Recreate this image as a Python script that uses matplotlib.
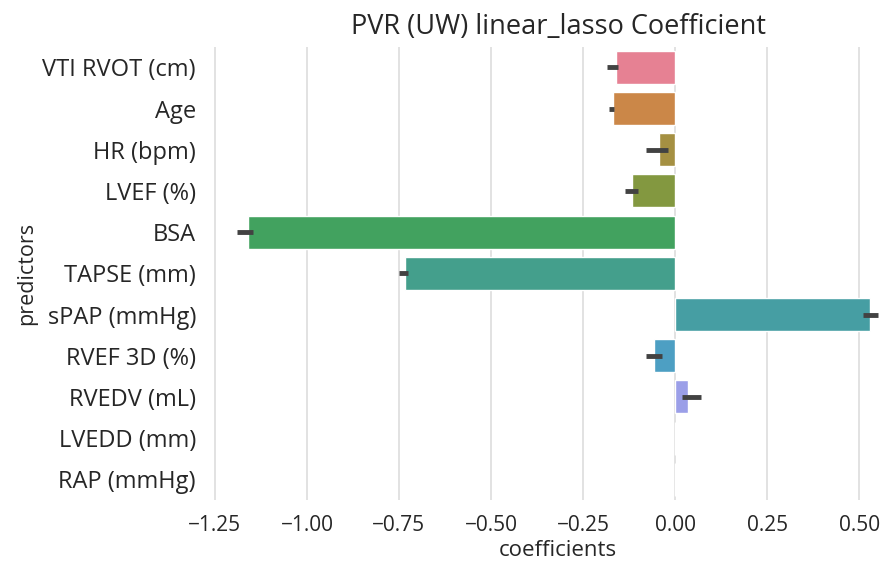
import matplotlib
matplotlib.use("Agg")
import matplotlib.pyplot as plt
import seaborn as sns
import numpy as np

predictors = ["VTI RVOT (cm)", "Age", "HR (bpm)", "LVEF (%)", "BSA", "TAPSE (mm)",
              "sPAP (mmHg)", "RVEF 3D (%)", "RVEDV (mL)", "LVEDD (mm)", "RAP (mmHg)"]
coef = [-0.16, -0.17, -0.043, -0.117, -1.16, -0.735, 0.53, -0.058, 0.036, 0.0, 0.0]
ci_low = [-0.185, -0.18, -0.08, -0.135, -1.19, -0.75, 0.511, -0.08, 0.02, 0.0, 0.0]
ci_high = [-0.155, -0.165, -0.02, -0.10, -1.146, -0.725, 0.552, -0.036, 0.07, 0.0, 0.0]
xticks = [-1.25, -1.0, -0.75, -0.5, -0.25, 0.0, 0.25, 0.5]

sns.set_style("whitegrid")
plt.rcParams['font.family'] = ['Open Sans', 'DejaVu Sans']

colors = [sns.desaturate(c, 0.75) for c in sns.husl_palette(len(predictors))]

fig, ax = plt.subplots(figsize=(8.82, 5.63), dpi=100)
# the original figure looks cropped on the right, so the axes run past the edge
fig.subplots_adjust(left=0.2324, right=1.033, top=0.917, bottom=0.112)

pos = np.arange(len(predictors))
ax.barh(pos, coef, height=0.8, color=colors)
ax.hlines(pos, ci_low, ci_high, color=".26", lw=3.5)

ax.set_yticks(pos)
ax.set_yticklabels(predictors, fontsize=17)
ax.set_ylim(len(predictors) - 0.5, -0.5)
ax.set_xlim(-1.277, 0.641)
ax.set_xticks(xticks)
ax.tick_params(axis="x", labelsize=15, pad=7)
ax.tick_params(axis="y", pad=3)
ax.yaxis.grid(False)
ax.xaxis.grid(True, color="#dddddd", lw=1.2)
ax.set_xlabel("coefficients", fontsize=16, labelpad=3)
ax.set_ylabel("predictors", fontsize=15.5)
ax.set_title("PVR (UW) linear_lasso Coefficient", fontsize=19.5, pad=9)
sns.despine(left=True, bottom=True)

fig.savefig("out.png", dpi=100)
